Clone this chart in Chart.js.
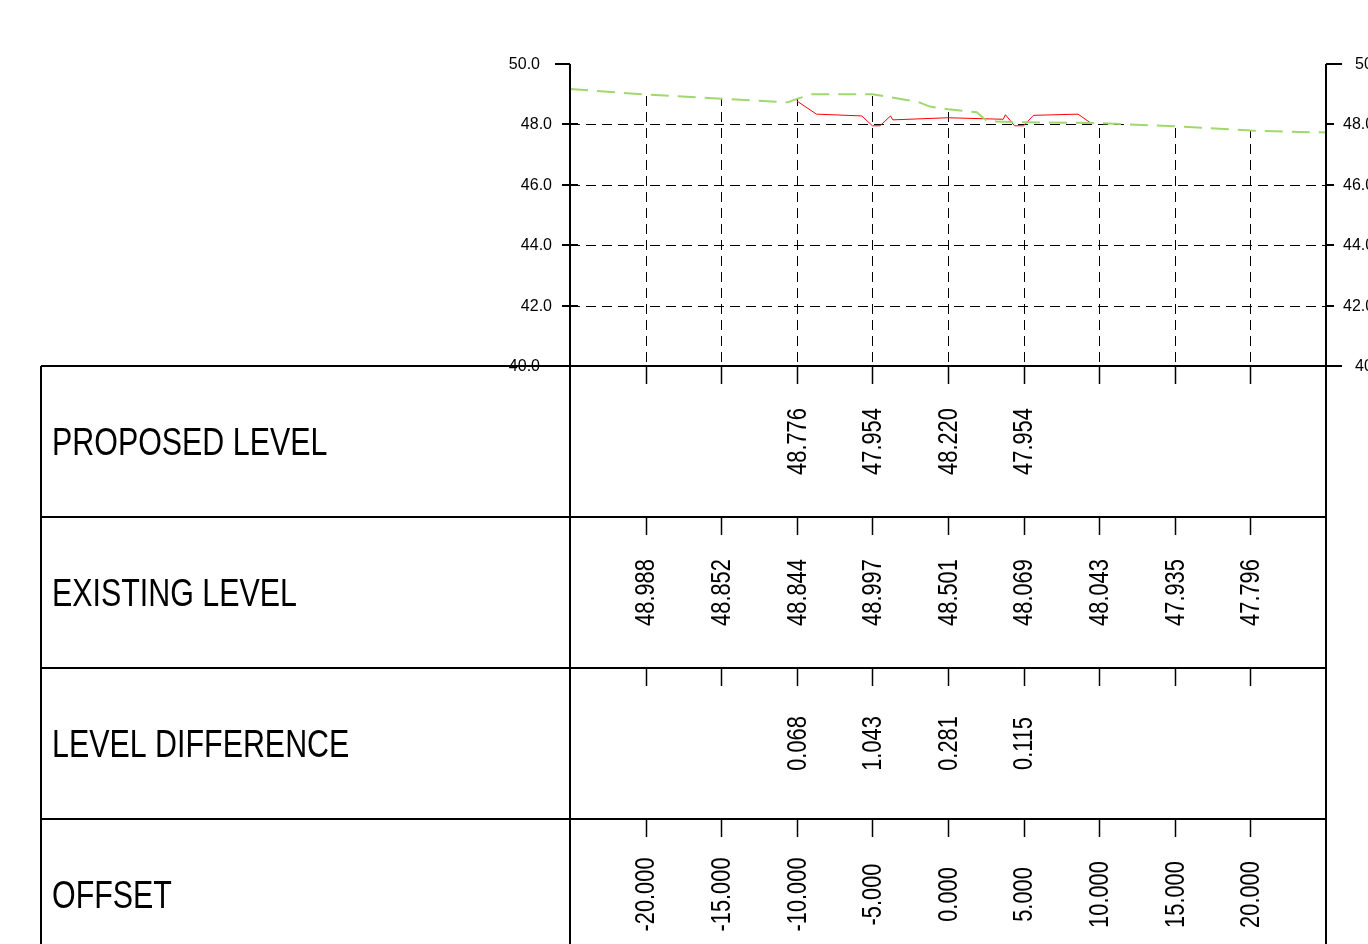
<!DOCTYPE html>
<html>
<head>
<meta charset="utf-8">
<script src="https://cdn.jsdelivr.net/npm/chart.js@4.4.1/dist/chart.umd.min.js"></script>
<style>
  html, body { margin: 0; padding: 0; background: #fff; overflow: hidden; }
  canvas { display: block; }
</style>
</head>
<body>
<canvas id="section" width="1368" height="944" style="width:1368px;height:944px"></canvas>
<script>
// station offsets shown in the table
const tickOffsets = [-20, -15, -10, -5, 0, 5, 10, 15, 20];
const proposedLevels = [null, null, 48.776, 47.954, 48.220, 47.954, null, null, null];
const existingLevels = [48.988, 48.852, 48.844, 48.997, 48.501, 48.069, 48.043, 47.935, 47.796];
const levelDiffs = [null, null, 0.068, 1.043, 0.281, 0.115, null, null, null];
const rowLabels = ['PROPOSED LEVEL', 'EXISTING LEVEL', 'LEVEL DIFFERENCE', 'OFFSET'];
const levelTicks = [40, 42, 44, 46, 48, 50];

// ground line (existing)
const groundX = [-25, -20, -15, -10.6, -10, -9, -5, -2, -1.2, 0, 1.9, 2.6, 5, 10, 15, 20, 25];
const groundY = [49.17, 48.988, 48.852, 48.73, 48.844, 49.0, 48.997, 48.75, 48.59, 48.501, 48.40, 48.1, 48.069, 48.043, 47.935, 47.796, 47.73];

// proposed line
const designX = [-10, -8.7, -5.7, -5, -4.5, -3.8, -3.65, 0, 3.65, 3.8, 4.4, 5, 5.65, 8.6, 9.4];
const designY = [48.776, 48.34, 48.28, 47.954, 47.954, 48.28, 48.15, 48.22, 48.17, 48.32, 47.954, 47.954, 48.3, 48.34, 48.06];

const FONT = '"Liberation Sans", Arial, sans-serif';

function line(ctx, x1, y1, x2, y2) {
  ctx.beginPath();
  ctx.moveTo(x1, y1);
  ctx.lineTo(x2, y2);
  ctx.stroke();
}

// dashed grid, only below the existing ground surface
const gridPlugin = {
  id: 'groundGrid',
  beforeDatasetsDraw(chart) {
    const ctx = chart.ctx;
    const { left, right, top, bottom } = chart.chartArea;
    const pts = chart.getDatasetMeta(0).data;
    ctx.save();
    ctx.beginPath();
    ctx.moveTo(pts[0].x, pts[0].y);
    pts.forEach(p => ctx.lineTo(p.x, p.y));
    ctx.lineTo(right, bottom);
    ctx.lineTo(left, bottom);
    ctx.closePath();
    ctx.clip();
    ctx.strokeStyle = '#000';
    ctx.lineWidth = 1;
    ctx.setLineDash([10, 6]);
    levelTicks.filter(v => v > 40 && v < 50).forEach(v => {
      const y = Math.round(chart.scales.y.getPixelForValue(v)) + 0.5;
      line(ctx, left, y, right, y);
    });
    tickOffsets.forEach(o => {
      const x = Math.round(chart.scales.x.getPixelForValue(o)) + 0.5;
      line(ctx, x, top, x, bottom);
    });
    ctx.restore();
  }
};

// axes and the data table under the section
const tablePlugin = {
  id: 'sectionTable',
  afterDraw(chart) {
    const ctx = chart.ctx;
    const { left, right, top, bottom } = chart.chartArea;
    const xs = chart.scales.x, ys = chart.scales.y;
    const tableLeft = 41, rowH = 151, canvasH = chart.height;

    ctx.save();
    ctx.strokeStyle = '#000';
    ctx.fillStyle = '#000';
    ctx.setLineDash([]);

    // axis lines
    ctx.lineWidth = 2;
    line(ctx, left, top, left, canvasH);
    line(ctx, right, top, right, canvasH);
    line(ctx, tableLeft, bottom, right + 16, bottom);
    line(ctx, tableLeft, bottom, tableLeft, canvasH);

    // level ticks + labels
    ctx.font = '16px ' + FONT;
    ctx.textBaseline = 'middle';
    levelTicks.forEach(v => {
      const y = Math.round(ys.getPixelForValue(v));
      const outer = (v === 50 || v === 40);
      ctx.lineWidth = 2;
      if (v === 50) {
        line(ctx, left - 15, y, left, y);
        line(ctx, right, y, right + 16, y);
      } else if (v !== 40) {
        line(ctx, left - 8, y, left + 8, y);
        line(ctx, right, y, right + 8, y);
      }
      const label = v.toFixed(1);
      ctx.textAlign = 'right';
      ctx.fillText(label, outer ? left - 30 : left - 18, y + 1);
      ctx.textAlign = 'left';
      ctx.fillText(label, outer ? right + 29 : right + 17, y + 1);
    });
    // baseline drawn over the 40.0 label
    ctx.lineWidth = 2;
    line(ctx, tableLeft, bottom, right + 16, bottom);

    // table rows
    const rows = [proposedLevels, existingLevels, levelDiffs, tickOffsets];
    rows.forEach((vals, i) => {
      const rowTop = bottom + i * rowH;
      const mid = rowTop + rowH / 2;
      ctx.lineWidth = 2;
      if (i > 0) line(ctx, tableLeft, rowTop, right, rowTop);

      ctx.lineWidth = 1.5;
      tickOffsets.forEach(o => {
        const x = Math.round(xs.getPixelForValue(o)) + 0.5;
        line(ctx, x, rowTop, x, rowTop + 18);
      });

      // row label, condensed
      ctx.save();
      ctx.translate(52, mid + 13);
      ctx.scale(0.8, 1);
      ctx.font = '38px ' + FONT;
      ctx.textAlign = 'left';
      ctx.textBaseline = 'alphabetic';
      ctx.fillText(rowLabels[i], 0, 0);
      ctx.restore();

      // rotated values
      vals.forEach((v, j) => {
        if (v === null) return;
        const x = xs.getPixelForValue(tickOffsets[j]);
        ctx.save();
        ctx.translate(x + 1, mid);
        ctx.rotate(-Math.PI / 2);
        ctx.scale(0.78, 1);
        ctx.font = '28px ' + FONT;
        ctx.textAlign = 'center';
        ctx.textBaseline = 'middle';
        ctx.fillText(v.toFixed(3), 0, 0);
        ctx.restore();
      });
    });
    ctx.restore();
  }
};

const ground = groundX.map((x, i) => ({ x: x, y: groundY[i] }));
const design = designX.map((x, i) => ({ x: x, y: designY[i] }));

new Chart(document.getElementById('section'), {
  type: 'line',
  data: {
    datasets: [
      {
        label: 'Existing',
        data: ground,
        borderColor: 'rgb(160, 216, 110)',
        borderWidth: 2,
        borderDash: [18, 9],
        pointRadius: 0,
        tension: 0,
        fill: false
      },
      {
        label: 'Proposed',
        data: design,
        borderColor: 'rgb(255, 0, 0)',
        borderWidth: 1,
        pointRadius: 0,
        tension: 0,
        fill: false
      }
    ]
  },
  options: {
    responsive: false,
    animation: false,
    devicePixelRatio: 1,
    layout: { padding: { left: 570, top: 64, right: 42, bottom: 578 } },
    plugins: { legend: { display: false }, tooltip: { enabled: false } },
    scales: {
      x: { type: 'linear', min: -25, max: 25, display: false },
      y: { min: 40, max: 50, display: false }
    }
  },
  plugins: [gridPlugin, tablePlugin]
});
</script>
</body>
</html>
